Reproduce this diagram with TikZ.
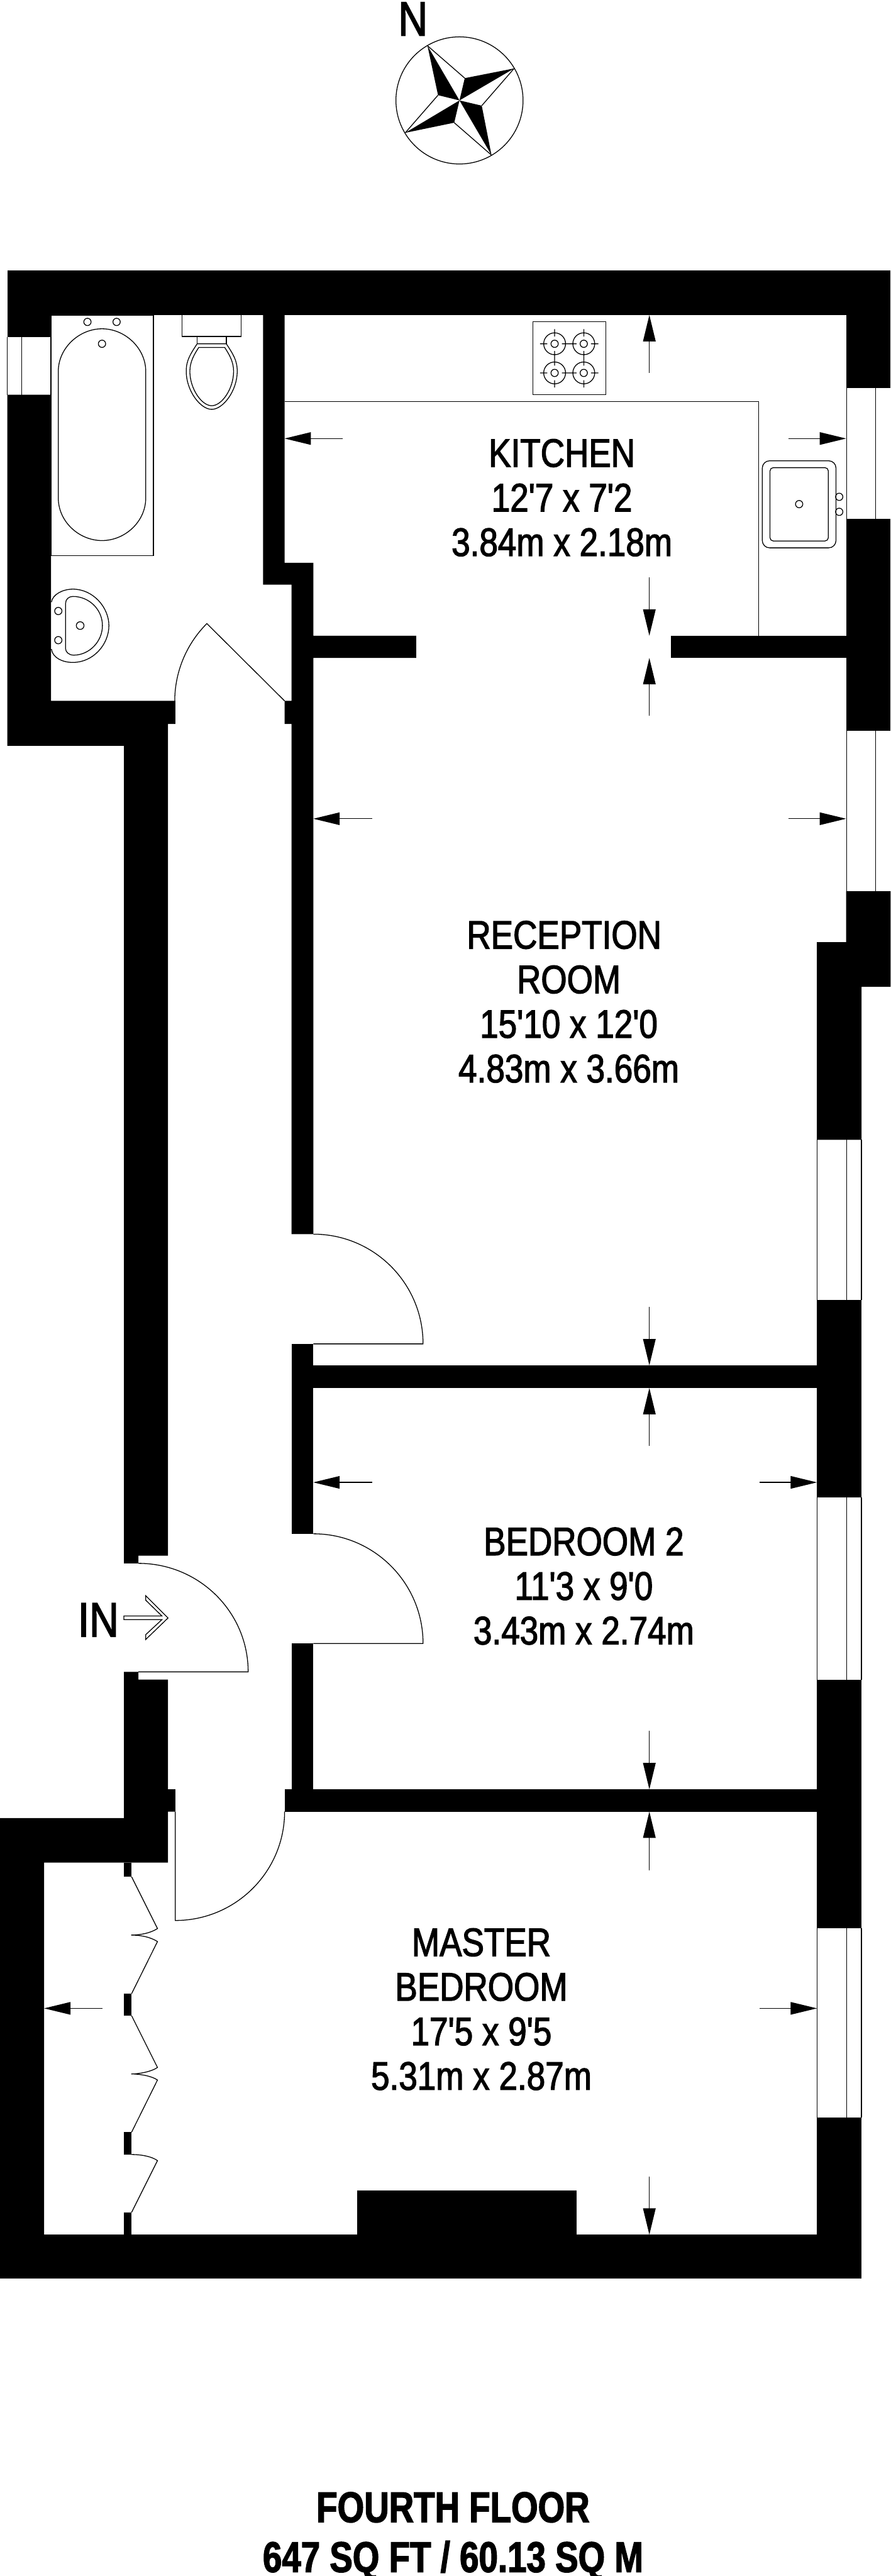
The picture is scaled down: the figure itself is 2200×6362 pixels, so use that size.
\documentclass[tikz,border=0pt]{standalone}
\usepackage{fontspec}
\usepackage{tikz}
\usetikzlibrary{arrows.meta}
\newfontfamily\planfont[FakeStretch=0.84, FakeBold=2]{Liberation Sans}
\newfontfamily\floorfont[FakeStretch=0.8, FakeBold=2]{Liberation Sans}
\definecolor{planblack}{RGB}{0, 0, 0}
\tikzset{
    wall/.style={fill=planblack},
    fixture/.style={draw=planblack, line width=0.02cm},
    windowline/.style={draw=planblack, line width=0.018cm},
    dimline/.style={->, draw=planblack, line width=0.018cm},
    roomlabel/.style={font=\planfont\fontsize{27.9}{31.3}\selectfont, text=planblack, align=center, inner sep=0pt, anchor=base},
    biglabel/.style={font=\planfont\fontsize{34.1}{38}\selectfont, text=planblack, inner sep=0pt, anchor=base},
    floorlabel/.style={font=\floorfont\bfseries\fontsize{30.2}{35}\selectfont, text=planblack, align=center, inner sep=0pt, anchor=base}
}
\begin{document}
\begin{tikzpicture}[x=0.01cm, y=-0.01cm, >={Triangle[length=0.65cm, width=0.31cm]}]
            \useasboundingbox (0,0) rectangle (2200,6362);
            \fill[wall] (18,668) rectangle (2200,778);
            \fill[wall] (18,668) rectangle (126,832);
            \fill[wall] (18,975) -- (126,975) -- (126,1731) -- (433,1731) -- (433,1788) -- (415,1788) -- (415,3842) -- (342,3842) -- (342,3861) -- (306,3861) -- (306,1842) -- (18,1842) -- cycle;
            \fill[wall] (650,778) -- (703,778) -- (703,1390) -- (774,1390) -- (774,1570) -- (1028,1570) -- (1028,1625) -- (774,1625) -- (774,3048) -- (720,3048) -- (720,1788) -- (703,1788) -- (703,1731) -- (720,1731) -- (720,1444) -- (650,1444) -- cycle;
            \fill[wall] (1658,1570) rectangle (2090,1625);
            \fill[wall] (720,3319) rectangle (774,3788);
            \fill[wall] (720,4059) rectangle (774,4419);
            \fill[wall] (774,3372) rectangle (2018,3428);
            \fill[wall] (703,4419) rectangle (2018,4474);
            \fill[wall] (306,4129) -- (342,4129) -- (342,4148) -- (415,4148) -- (415,4419) -- (433,4419) -- (433,4474) -- (415,4474) -- (415,4600) -- (109,4600) -- (109,5519) -- (0,5519) -- (0,4490) -- (306,4490) -- cycle;
            \fill[wall] (0,5519) rectangle (2128,5627);
            \fill[wall] (882,5410) rectangle (1425,5519);
            \fill[wall] (2090,778) rectangle (2200,958);
            \fill[wall] (2090,1281) rectangle (2200,1805);
            \fill[wall] (2090,2201) -- (2200,2201) -- (2200,2437) -- (2128,2437) -- (2128,2815) -- (2018,2815) -- (2018,2327) -- (2090,2327) -- cycle;
            \fill[wall] (2018,3211) rectangle (2128,3698);
            \fill[wall] (2018,4149) rectangle (2128,4762);
            \fill[wall] (2018,5230) rectangle (2128,5627);
            \fill[wall] (306,4600) rectangle (325,4635);
            \fill[wall] (306,4924) rectangle (325,4978);
            \fill[wall] (306,5266) rectangle (325,5321);
            \fill[wall] (306,5464) rectangle (325,5519);

            \draw[windowline] (18,832) -- (18,975) (53,832) -- (53,975) (126,832) -- (126,975);
            \draw[windowline] (2091,958) -- (2091,1281) (2163,958) -- (2163,1281);
            \draw[windowline] (2091,1805) -- (2091,2201) (2163,1805) -- (2163,2201);
            \draw[windowline] (2018,2815) -- (2018,3211) (2092,2815) -- (2092,3211) (2128,2815) -- (2128,3211);
            \draw[windowline] (2018,3698) -- (2018,4149) (2092,3698) -- (2092,4149) (2128,3698) -- (2128,4149);
            \draw[windowline] (2018,4762) -- (2018,5230) (2092,4762) -- (2092,5230) (2128,4762) -- (2128,5230);

            \draw[fixture] (703,1731) -- (511,1540) arc[start angle=225, end angle=180, radius=271];
            \draw[fixture] (774,3048) arc[start angle=270, end angle=360, radius=271] -- (774,3319);
            \draw[fixture] (774,3788) arc[start angle=270, end angle=360, radius=271] -- (774,4059);
            \draw[fixture] (342,3861) arc[start angle=270, end angle=360, x radius=271, y radius=268] -- (342,4129);
            \draw[fixture] (433,4474) -- (433,4743) arc[start angle=90, end angle=0, x radius=270, y radius=269];

            \draw[fixture] (325,4635) -- (389,4763) .. controls (370,4775) and (345,4779) .. (324,4779) .. controls (345,4779) and (370,4783) .. (389,4795) -- (325,4924);
            \draw[fixture] (325,4978) -- (389,5106) .. controls (375,5116) and (345,5122) .. (324,5122) .. controls (345,5122) and (375,5127) .. (389,5137) -- (325,5266);
            \draw[fixture] (325,5321) .. controls (350,5321) and (375,5326) .. (389,5336) -- (325,5464);

            \draw[fixture] (126,778) rectangle (379,1372);
            \draw[fixture] (144,917) .. controls (144,860) and (195,812) .. (252,812) .. controls (309,812) and (360,860) .. (360,917) -- (360,1230) .. controls (360,1288) and (309,1335) .. (252,1335) .. controls (195,1335) and (144,1288) .. (144,1230) -- cycle;
            \draw[fixture] (216,795) circle[radius=9] (288,795) circle[radius=9] (252,849) circle[radius=9];

            \draw[fixture] (450,778) -- (450,831) -- (596,831) -- (596,778);
            \draw[fixture] (487,831) rectangle (559,849);
            \draw[fixture] (487,849) .. controls (470,875) and (460,890) .. (460,917) .. controls (460,965) and (495,1011) .. (523,1011) .. controls (551,1011) and (586,965) .. (586,917) .. controls (586,890) and (576,875) .. (559,849) -- cycle;
            \draw[fixture] (491,858) .. controls (480,875) and (469,893) .. (469,917) .. controls (469,960) and (498,1002) .. (523,1002) .. controls (548,1002) and (577,960) .. (577,917) .. controls (577,893) and (566,875) .. (555,858) -- cycle;

            \draw[fixture] (127,1487) .. controls (130,1468) and (155,1455) .. (180,1455) .. controls (230,1455) and (269,1500) .. (269,1545) .. controls (269,1592) and (230,1636) .. (180,1636) .. controls (155,1636) and (130,1625) .. (127,1603);
            \draw[fixture] (162,1490) .. controls (162,1480) and (170,1473) .. (180,1473) .. controls (220,1473) and (253,1505) .. (253,1545) .. controls (253,1585) and (220,1618) .. (182,1618) .. controls (170,1618) and (162,1610) .. (162,1602) -- cycle;
            \draw[fixture] (144,1509) circle[radius=9] (144,1581) circle[radius=9] (198,1545) circle[radius=9.5];

            \draw[fixture] (703,992) -- (1874,992) -- (1874,1570);
            \draw[fixture] (1316,795) rectangle (1496,975);
            \draw[fixture] (1370,849) circle[radius=27] (1370,849) circle[radius=9] (1334,849) -- (1352,849) (1388,849) -- (1406,849) (1370,813) -- (1370,831) (1370,867) -- (1370,885);
            \draw[fixture] (1442,849) circle[radius=27] (1442,849) circle[radius=9] (1406,849) -- (1424,849) (1460,849) -- (1478,849) (1442,813) -- (1442,831) (1442,867) -- (1442,885);
            \draw[fixture] (1370,921) circle[radius=27] (1370,921) circle[radius=9] (1334,921) -- (1352,921) (1388,921) -- (1406,921) (1370,885) -- (1370,903) (1370,939) -- (1370,957);
            \draw[fixture] (1442,921) circle[radius=27] (1442,921) circle[radius=9] (1406,921) -- (1424,921) (1460,921) -- (1478,921) (1442,885) -- (1442,903) (1442,939) -- (1442,957);
            \draw[fixture, rounded corners=0.18cm] (1883,1138) rectangle (2065,1353);
            \draw[fixture, rounded corners=0.08cm] (1902,1155) rectangle (2046,1336);
            \draw[fixture] (1974,1245) circle[radius=9] (2073,1227) circle[radius=9] (2073,1264) circle[radius=9];

            \draw[dimline] (1604,921) -- (1604,778);
            \draw[dimline] (847,1083) -- (703,1083);
            \draw[dimline] (1947,1083) -- (2090,1083);
            \draw[dimline] (1604,1426) -- (1604,1570);
            \draw[dimline] (1604,1767) -- (1604,1625);
            \draw[dimline] (919,2022) -- (774,2022);
            \draw[dimline] (1947,2022) -- (2090,2022);
            \draw[dimline] (1604,3228) -- (1604,3372);
            \draw[dimline] (1604,3571) -- (1604,3428);
            \draw[dimline] (919,3661) -- (774,3661);
            \draw[dimline] (1876,3661) -- (2018,3661);
            \draw[dimline] (1604,4275) -- (1604,4419);
            \draw[dimline] (1604,4619) -- (1604,4474);
            \draw[dimline] (253,4960) -- (109,4960);
            \draw[dimline] (1876,4960) -- (2018,4960);
            \draw[dimline] (1604,5375) -- (1604,5519);

            \node[biglabel] (north) at (1020,88) {N};
            \draw[fixture] (1135,248) circle[radius=157];
            \fill[wall] (1056,113) -- (1082,235) -- (1135,248) -- cycle;
            \fill[wall] (1270,169) -- (1148,193) -- (1135,248) -- cycle;
            \fill[wall] (1214,383) -- (1190,261) -- (1135,248) -- cycle;
            \fill[wall] (1001,328) -- (1122,303) -- (1135,248) -- cycle;
            \draw[fixture] (1056,113) -- (1148,193) (1270,169) -- (1190,261) (1214,383) -- (1122,303) (1001,328) -- (1082,235);

            \node[biglabel] (entrance) at (243,4042) {IN};
            \draw[fixture] (306,3991) -- (400,3991) -- (360,3952) -- (360,3941) -- (415,3996) -- (360,4049) -- (360,4037) -- (400,4000) -- (306,4000) -- cycle;

            \node[roomlabel] (kitchen) at (1388,1373) {KITCHEN\\12'7 x 7'2\\3.84m x 2.18m};
            \node[roomlabel] (reception) at (1405,2673) {RECEPTION\kern0.23cm\\ROOM\\15'10 x 12'0\\4.83m x 3.66m};
            \node[roomlabel] (bedroomtwo) at (1442,4061) {BEDROOM 2\\11'3 x 9'0\\3.43m x 2.74m};
            \node[roomlabel] (master) at (1189,5161) {MASTER\\BEDROOM\\17'5 x 9'5\\5.31m x 2.87m};
            \node[floorlabel] (floor) at (1119,6352) {FOURTH FLOOR\\647 SQ FT / 60.13 SQ M};
        \end{tikzpicture}
\end{document}
